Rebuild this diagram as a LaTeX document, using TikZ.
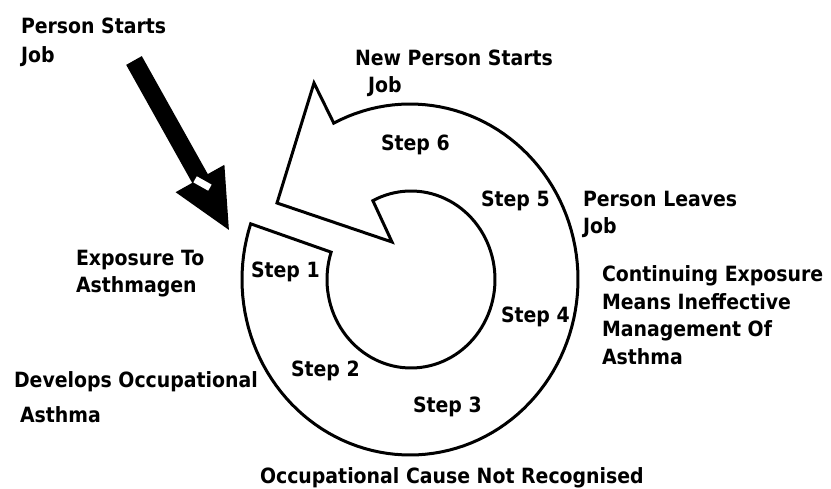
\documentclass[tikz,border=0pt]{standalone}
\usepackage{fontspec}
\setmainfont{DejaVu Sans}[FakeStretch=0.9]
\newcommand\mylines[2]{\fontsize{21}{#1}\selectfont\begin{tabular}[t]{@{}l@{}}#2\end{tabular}}
\begin{document}
\begin{tikzpicture}[x=1pt,y=-1pt,
  lbl/.style={anchor=base west, inner sep=0pt, outer sep=0pt, font=\bfseries},
  ring/.style={draw=black, fill=white, line width=3pt, line join=miter},
  bigarrow/.style={fill=black, draw=none}]
\useasboundingbox[fill=white] (0,0) rectangle (831,489);

% circular arrow
\draw[ring]
  plot[domain=198.5:-117, samples=120] ({410+168*cos(\x)},{279.5+175.5*sin(\x)})
  -- (314,83) -- (277,203) -- (392,242)
  -- plot[domain=243:558, samples=100] ({411+84*cos(\x)},{279.5+88.5*sin(\x)})
  -- cycle;

% black arrow
\fill[bigarrow] (126.2,64.9) -- (141.8,56.1) -- (207.8,174.1) -- (224.4,164.8)
  -- (228.9,229.9) -- (175.6,192.2) -- (192.2,182.9) -- cycle;
\fill[white, rotate around={-29.3:(202.5,183.5)}] (194,180) rectangle (211,187);

% labels
\node[lbl] (start) at (21,34) {\mylines{29}{Person Starts\\Job}};
\node[lbl] (newstart) at (355,66) {\mylines{27}{New Person Starts\\\hspace*{13pt}Job}};
\node[lbl] (leaves) at (583,207) {\mylines{27}{Person Leaves\\Job}};
\node[lbl] (contexp) at (602,282) {\mylines{27.4}{Continuing Exposure\\Means Ineffective\\Management Of\\Asthma}};
\node[lbl] (expo) at (76,266) {\mylines{27}{Exposure To\\Asthmagen}};
\node[lbl] (develops) at (14,388) {\mylines{35}{Develops Occupational\\\hspace*{6pt}Asthma}};
\node[lbl] (notrec) at (260,483) {\mylines{27}{Occupational Cause Not Recognised}};

\node[lbl] (s1) at (251,278) {\mylines{27}{Step 1}};
\node[lbl] (s2) at (291,377) {\mylines{27}{Step 2}};
\node[lbl] (s3) at (413,413) {\mylines{27}{Step 3}};
\node[lbl] (s4) at (501,323) {\mylines{27}{Step 4}};
\node[lbl] (s5) at (481,207) {\mylines{27}{Step 5}};
\node[lbl] (s6) at (381,151) {\mylines{27}{Step 6}};
\end{tikzpicture}
\end{document}
